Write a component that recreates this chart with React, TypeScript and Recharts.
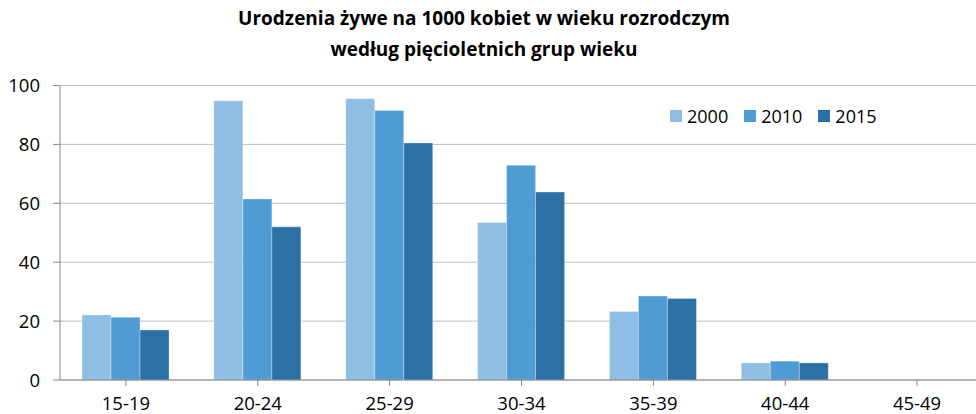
import React from 'react';
import { BarChart, Bar, XAxis, YAxis, CartesianGrid, Legend } from 'recharts';

const categories = ['15-19', '20-24', '25-29', '30-34', '35-39', '40-44', '45-49'];
const values2000 = [22.1, 94.8, 95.5, 53.5, 23.3, 5.8, 0];
const values2010 = [21.3, 61.5, 91.5, 72.9, 28.5, 6.4, 0];
const values2015 = [17.0, 52.0, 80.5, 63.8, 27.7, 5.8, 0];
const yTicks = [0, 20, 40, 60, 80, 100];
const seriesNames = ['2000', '2010', '2015'];
const colors = ['#8EBEE3', '#4F9BD3', '#2C71A5'];

const data = categories.map((c, i) => ({
  cat: c,
  s2000: values2000[i],
  s2010: values2010[i],
  s2015: values2015[i],
}));

const FONT = '"Open Sans", "Noto Sans", sans-serif';

const LegendContent = (props: any) => {
  const payload = props.payload || [];
  return (
    <div style={{ display: 'flex', flexDirection: 'row', alignItems: 'center', fontFamily: FONT, fontSize: 18, color: '#000' }}>
      {payload.map((p: any, i: number) => (
        <div key={i} style={{ display: 'flex', alignItems: 'center', marginRight: 16 }}>
          <div style={{ width: 12, height: 12, background: p.color, marginRight: 5 }} />
          <span style={{ lineHeight: '18px' }}>{p.value}</span>
        </div>
      ))}
    </div>
  );
};

export default function App() {
  return (
    <div style={{ position: 'absolute', left: 0, top: 0, width: 976, height: 414, overflow: 'hidden', background: '#fff' }}>
      <div
        style={{
          position: 'absolute',
          left: 0,
          top: 3,
          width: 968,
          textAlign: 'center',
          fontFamily: FONT,
          fontWeight: 700,
          fontSize: 19,
          lineHeight: '31px',
          color: '#000',
          zIndex: 2,
        }}
      >
        Urodzenia żywe na 1000 kobiet w wieku rozrodczym
        <br />
        według pięcioletnich grup wieku
      </div>
      <BarChart
        width={984}
        height={414}
        data={data}
        margin={{ top: 85.5, right: 1, bottom: 0, left: 0 }}
        barCategoryGap="16.7%"
        barGap={0}
      >
        <CartesianGrid vertical={false} stroke="#BFBFBF" strokeWidth={1} />
        <XAxis
          dataKey="cat"
          height={34}
          tickSize={6}
          tickMargin={11}
          stroke="#868686"
          tick={{ fill: '#000', fontSize: 18.5, fontFamily: FONT }}
          interval={0}
        />
        <YAxis
          width={60}
          domain={[0, 100]}
          ticks={yTicks}
          tickSize={7}
          tickMargin={13}
          stroke="#868686"
          tick={{ fill: '#000', fontSize: 18.5, fontFamily: FONT }}
          allowDataOverflow
        />
        <Legend
          layout="horizontal"
          verticalAlign="middle"
          align="center"
          wrapperStyle={{ position: 'absolute', left: 670, top: 107, width: 'auto', height: 18 }}
          content={LegendContent}
        />
        <Bar dataKey="s2000" name={seriesNames[0]} fill={colors[0]} stroke="#ffffff" strokeOpacity={0.3} isAnimationActive={false} />
        <Bar dataKey="s2010" name={seriesNames[1]} fill={colors[1]} stroke="#ffffff" strokeOpacity={0.3} isAnimationActive={false} />
        <Bar dataKey="s2015" name={seriesNames[2]} fill={colors[2]} stroke="#ffffff" strokeOpacity={0.3} isAnimationActive={false} />
      </BarChart>
    </div>
  );
}
